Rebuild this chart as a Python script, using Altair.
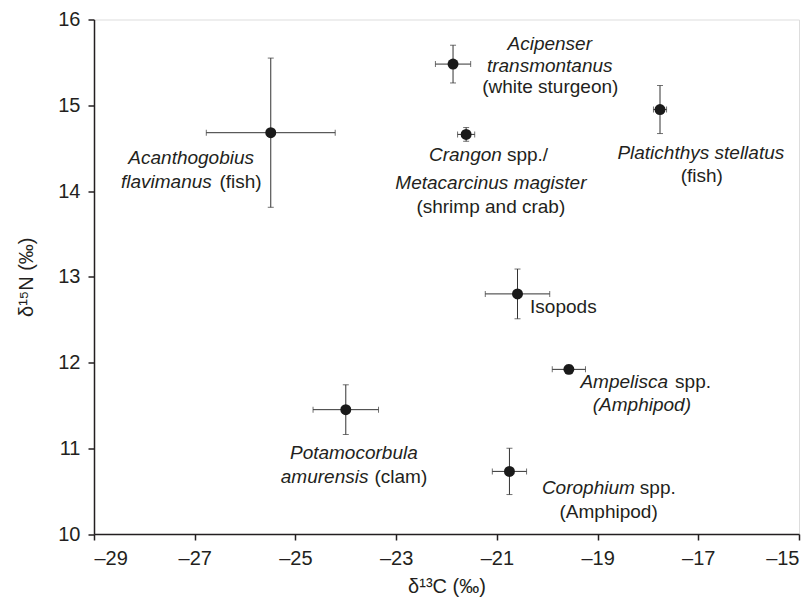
import altair as alt
import pandas as pd

# ---- data ----
species = ["Acanthogobius flavimanus", "Acipenser transmontanus", "Crangon/Metacarcinus",
           "Platichthys stellatus", "Isopods", "Ampelisca spp.",
           "Potamocorbula amurensis", "Corophium spp."]
d13c = [-25.49, -21.87, -21.61, -17.76, -20.59, -19.57, -24.00, -20.75]
d15n = [14.68, 15.48, 14.66, 14.95, 12.80, 11.92, 11.45, 10.73]
d13c_err = [1.28, 0.35, 0.17, 0.13, 0.64, 0.33, 0.65, 0.34]
d15n_err = [0.87, 0.22, 0.08, 0.28, 0.29, 0.05, 0.29, 0.27]

x_ticks = [-29, -27, -25, -23, -21, -19, -17, -15]
y_ticks = [10, 11, 12, 13, 14, 15, 16]

# annotation pieces (anchored in data units)
ann_text = ["Acanthogobius", "flavimanus", "(fish)",
            "Acipenser", "transmontanus", "(white sturgeon)",
            "Crangon", "spp./", "Metacarcinus magister", "(shrimp and crab)",
            "Platichthys stellatus", "(fish)",
            "Isopods",
            "Ampelisca", "spp.", "(Amphipod)",
            "Potamocorbula", "amurensis", "(clam)",
            "Corophium", "spp.", "(Amphipod)"]
ann_x = [-27.07, -26.66, -26.51,
         -19.95, -19.95, -19.94,
         -20.90, -20.80, -19.22, -21.12,
         -16.95, -16.93,
         -20.34,
         -17.60, -17.46, -18.12,
         -23.84, -23.55, -23.43,
         -18.26, -18.16, -18.78]
ann_y = [14.38, 14.10, 14.10,
         15.71, 15.46, 15.21,
         14.42, 14.42, 14.09, 13.81,
         14.44, 14.17,
         12.65,
         11.77, 11.77, 11.50,
         10.94, 10.67, 10.67,
         10.54, 10.54, 10.26]
ann_align = ["center", "right", "left",
             "center", "center", "center",
             "right", "left", "right", "center",
             "center", "center",
             "left",
             "right", "left", "center",
             "center", "right", "left",
             "right", "left", "center"]
ann_style = ["italic", "italic", "normal",
             "italic", "italic", "normal",
             "italic", "normal", "italic", "normal",
             "italic", "normal",
             "normal",
             "italic", "normal", "italic",
             "italic", "italic", "normal",
             "italic", "normal", "normal"]

df = pd.DataFrame({"species": species, "x": d13c, "y": d15n,
                   "xe": d13c_err, "ye": d15n_err})
ann = pd.DataFrame({"text": ann_text, "x": ann_x, "y": ann_y,
                    "align": ann_align, "style": ann_style})

FONT = "Liberation Sans"
INK = "#231f20"

xscale = alt.Scale(domain=[-29, -15], nice=False, zero=False)
yscale = alt.Scale(domain=[10, 16], nice=False, zero=False)

minus_expr = "datum.value < 0 ? '\u2013' + abs(datum.value) : '' + datum.value"

x_axis = alt.Axis(values=x_ticks, title="\u03b4\u00b9\u00b3C (\u2030)", grid=False,
                  labelExpr=minus_expr, labelFontSize=20, labelFont=FONT, labelColor=INK,
                  labelPadding=8, tickSize=6, tickColor=INK, tickWidth=1.5,
                  domainColor=INK, domainWidth=1.5, titleFont=FONT, titleFontSize=20,
                  titleFontWeight="normal", titleColor=INK, titleY=52,
                  titleBaseline="middle")
y_axis = alt.Axis(values=y_ticks, title="\u03b4\u00b9\u2075N (\u2030)", grid=False,
                  format="d", labelFontSize=20, labelFont=FONT, labelColor=INK,
                  labelPadding=8, tickSize=6, tickColor=INK, tickWidth=1.5,
                  domainColor=INK, domainWidth=1.5, titleFont=FONT, titleFontSize=20,
                  titleFontWeight="normal", titleColor=INK, titleX=-68,
                  titleBaseline="middle")

base = alt.Chart(df).transform_calculate(
    xlo="datum.x - datum.xe", xhi="datum.x + datum.xe",
    ylo="datum.y - datum.ye", yhi="datum.y + datum.ye")

hbar = base.mark_rule(color="#333333", strokeWidth=1).encode(
    x=alt.X("xlo:Q", scale=xscale, axis=x_axis), x2="xhi:Q",
    y=alt.Y("y:Q", scale=yscale, axis=y_axis))
vbar = base.mark_rule(color="#333333", strokeWidth=1).encode(
    x="x:Q", y="ylo:Q", y2="yhi:Q")
cap_l = base.mark_tick(color="#333333", orient="vertical", size=6, thickness=1).encode(
    x="xlo:Q", y="y:Q")
cap_r = base.mark_tick(color="#333333", orient="vertical", size=6, thickness=1).encode(
    x="xhi:Q", y="y:Q")
cap_b = base.mark_tick(color="#333333", orient="horizontal", size=6, thickness=1).encode(
    x="x:Q", y="ylo:Q")
cap_t = base.mark_tick(color="#333333", orient="horizontal", size=6, thickness=1).encode(
    x="x:Q", y="yhi:Q")
dots = base.mark_point(filled=True, color="#1a1a1a", opacity=1, size=120).encode(
    x="x:Q", y="y:Q")

text_layers = []
for st in ["italic", "normal"]:
    for al in ["left", "center", "right"]:
        text_layers.append(
            alt.Chart(ann).transform_filter(
                f"datum.style == '{st}' && datum.align == '{al}'"
            ).mark_text(font=FONT, fontSize=19, fontStyle=st, align=al,
                        baseline="middle", color=INK).encode(
                x="x:Q", y="y:Q", text="text:N"))

chart = alt.layer(hbar, vbar, cap_l, cap_r, cap_b, cap_t, dots, *text_layers).properties(
    width=705, height=514.5,
    autosize=alt.AutoSizeParams(type="none"),
    padding={"left": 86, "top": 11.5, "right": 4, "bottom": 66},
).configure_view(stroke=None).configure(background="white")

chart.save("out.html", embed_options={"renderer": "svg", "actions": False})
